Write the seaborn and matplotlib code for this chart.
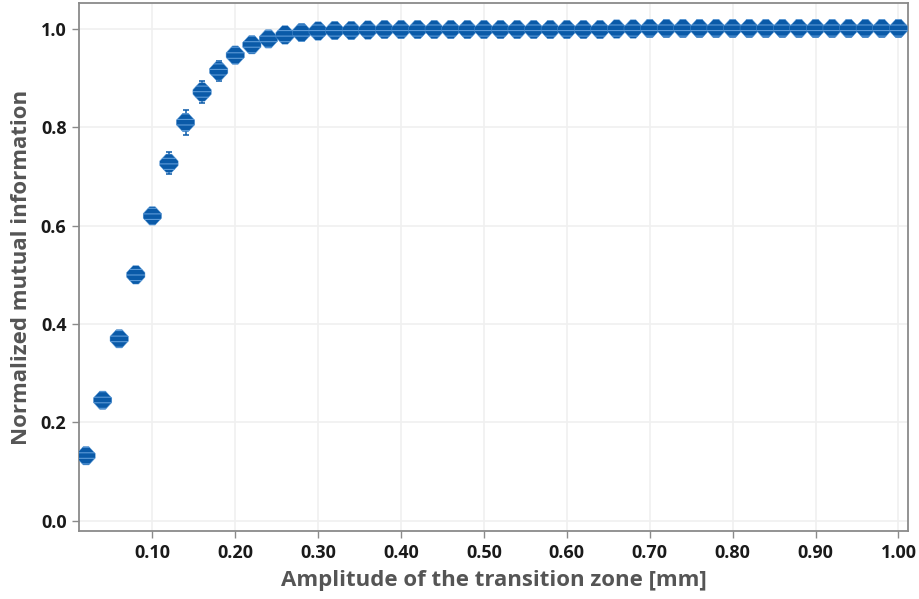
import numpy as np
import pandas as pd
import matplotlib
matplotlib.use("Agg")
import matplotlib.pyplot as plt
import seaborn as sns

amplitude = [0.02, 0.04, 0.06, 0.08, 0.10, 0.12, 0.14, 0.16, 0.18, 0.20,
             0.22, 0.24, 0.26, 0.28, 0.30, 0.32, 0.34, 0.36, 0.38, 0.40,
             0.42, 0.44, 0.46, 0.48, 0.50, 0.52, 0.54, 0.56, 0.58, 0.60,
             0.62, 0.64, 0.66, 0.68, 0.70, 0.72, 0.74, 0.76, 0.78, 0.80,
             0.82, 0.84, 0.86, 0.88, 0.90, 0.92, 0.94, 0.96, 0.98, 1.00]
nmi = [0.132, 0.245, 0.370, 0.500, 0.620, 0.727, 0.810, 0.872, 0.915, 0.947,
       0.968, 0.980, 0.988, 0.993, 0.996, 0.997, 0.997, 0.998, 0.999, 0.999,
       0.999, 0.999, 0.999, 0.999, 0.999, 0.999, 0.999, 0.999, 0.999, 0.999,
       0.999, 0.999, 1.000, 1.000, 1.001, 1.001, 1.001, 1.001, 1.001, 1.001,
       1.001, 1.001, 1.001, 1.001, 1.001, 1.001, 1.001, 1.001, 1.001, 1.001]
err = [0.007, 0.010, 0.008, 0.006, 0.010, 0.022, 0.026, 0.022, 0.020, 0.015,
       0.010, 0.006, 0.005, 0.004, 0.003, 0.003, 0.002, 0.002, 0.002, 0.002,
       0.002, 0.002, 0.002, 0.002, 0.002, 0.002, 0.002, 0.002, 0.002, 0.002,
       0.002, 0.002, 0.002, 0.002, 0.002, 0.002, 0.002, 0.002, 0.002, 0.002,
       0.002, 0.002, 0.002, 0.002, 0.002, 0.002, 0.002, 0.002, 0.002, 0.002]
x_ticks = [0.10, 0.20, 0.30, 0.40, 0.50, 0.60, 0.70, 0.80, 0.90, 1.00]
y_ticks = [0.0, 0.2, 0.4, 0.6, 0.8, 1.0]

df = pd.DataFrame({"amp": amplitude, "nmi": nmi, "err": err})

sns.set_theme(style="white")
plt.rcParams["font.family"] = ["Open Sans", "DejaVu Sans"]
plt.rcParams["hatch.linewidth"] = 0.8

fig = plt.figure(figsize=(9.19, 5.99), dpi=100)
ax = fig.add_axes([79/919, 1 - 531/599, (908-79)/919, (531-3)/599])

dark = "#0a5aa8"
octo = [(-1, -0.25), (-1, 0.25), (-0.3, 1), (0.3, 1), (1, 0.25), (1, -0.25),
        (0.3, -1), (-0.3, -1), (-1, -0.25)]
ax.errorbar(df["amp"], df["nmi"], yerr=df["err"], fmt="none", ecolor=dark,
            elinewidth=1.1, capsize=2.5, capthick=1.1, zorder=2)
sns.scatterplot(data=df, x="amp", y="nmi", ax=ax, marker=octo, s=175,
                color=dark, edgecolor="#5b9ad8", linewidth=0.3,
                hatch="---", zorder=3, legend=False)

ax.set_xlim(0.0115, 1.0115)
ax.set_ylim(-0.021, 1.053)
ax.set_xticks(x_ticks)
ax.set_xticklabels([f"{t:.2f}" for t in x_ticks])
ax.set_yticks(y_ticks)
ax.set_yticklabels([f"{t:.1f}" for t in y_ticks])
ax.grid(True, color="#f0f0f0", linewidth=1.2)
ax.set_axisbelow(True)
for s in ax.spines.values():
    s.set_color("#8a8a8a")
    s.set_linewidth(1.3)
ax.tick_params(axis="both", which="both", length=5, width=1, color="#8a8a8a",
               direction="out", bottom=True, left=True, labelsize=13, pad=4)
for lab in ax.get_xticklabels() + ax.get_yticklabels():
    lab.set_fontweight("bold")
    lab.set_color("#1a1a1a")
ax.set_xlabel("Amplitude of the transition zone [mm]", fontsize=16,
              fontweight="bold", color="#555555", labelpad=6)
ax.set_ylabel("Normalized mutual information", fontsize=16,
              fontweight="bold", color="#555555", labelpad=6)

fig.savefig("out.png", dpi=100)
